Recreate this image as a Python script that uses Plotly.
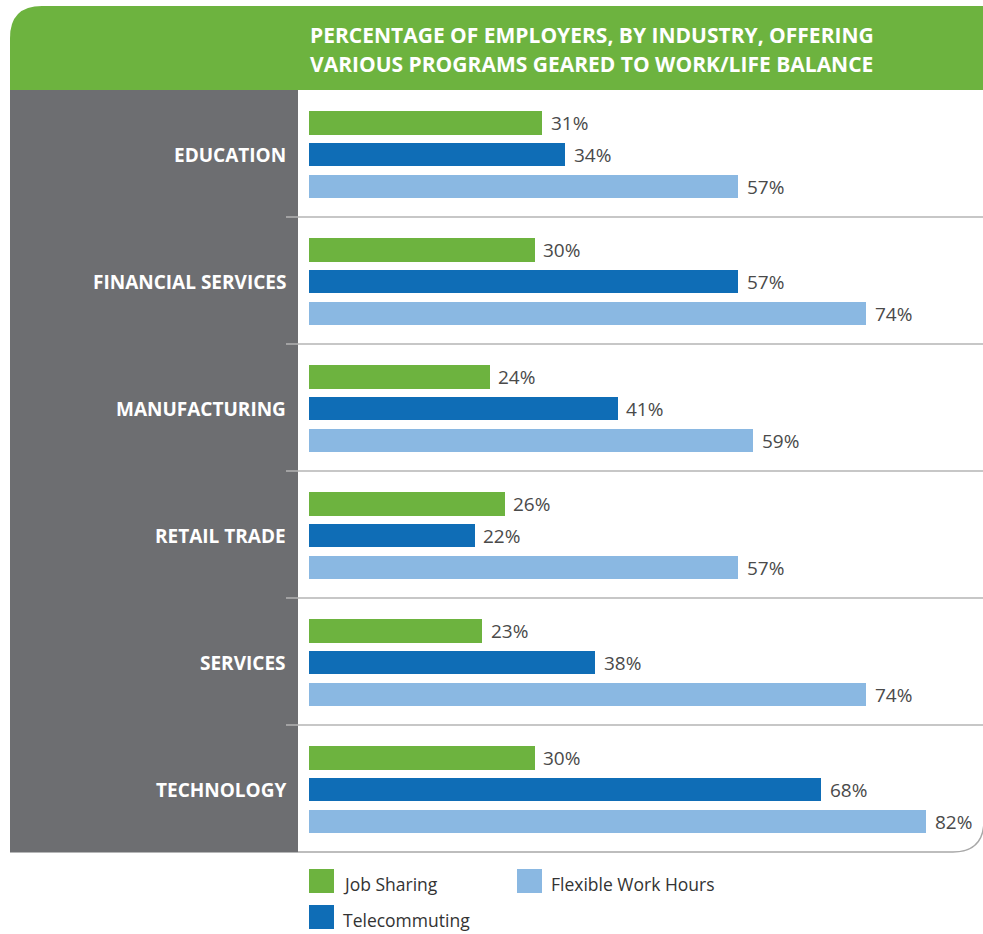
import plotly.graph_objects as go

W, H = 983, 934

industries = ["EDUCATION", "FINANCIAL SERVICES", "MANUFACTURING", "RETAIL TRADE", "SERVICES", "TECHNOLOGY"]
series_names = ["Job Sharing", "Telecommuting", "Flexible Work Hours"]
job_sharing = [31, 30, 24, 26, 23, 30]
telecommuting = [34, 57, 41, 22, 38, 68]
flexible_hours = [57, 74, 59, 57, 74, 82]
series_values = [job_sharing, telecommuting, flexible_hours]
series_colors = ["#6db33f", "#0f6db6", "#8ab8e2"]
title_lines = ["PERCENTAGE OF EMPLOYERS, BY INDUSTRY, OFFERING",
               "VARIOUS PROGRAMS GEARED TO WORK/LIFE BALANCE"]

GREEN = "#6db33f"
PANEL = "#6d6e71"
RULE = "#b5b5b5"
TEXT = "#4a4a4a"
FONT = "Open Sans"


def px(x):
    return x / W


def py(y):
    return 1 - y / H


# plot region in pixels
PLOT_TOP, PLOT_BOT = 90, 852
BAR_X0 = 308.5
PX_PER_PCT = 7.53
n = len(industries)
offsets = [-0.25, 0.0, 0.25]
center = 0.51
bar_w = 0.182

fig = go.Figure()
for k, (name, vals, col) in enumerate(zip(series_names, series_values, series_colors)):
    ys = [i + center + offsets[k] for i in range(n)]
    fig.add_trace(go.Bar(
        x=vals, y=ys, orientation="h", name=name, width=bar_w,
        marker=dict(color=col, line=dict(width=0)), showlegend=False,
        hoverinfo="x+name",
    ))

shapes = []
annotations = []

# gray category panel
shapes.append(dict(type="rect", xref="paper", yref="paper",
                   x0=px(10), x1=px(298), y0=py(852.5), y1=py(90),
                   fillcolor=PANEL, line=dict(width=0), layer="below"))

# green header with rounded top-left corner
r = 32
path = (f"M {px(10)},{py(90)} L {px(10)},{py(6 + r)} "
        f"Q {px(10)},{py(6)} {px(10 + r)},{py(6)} "
        f"L {px(983)},{py(6)} L {px(983)},{py(90)} Z")
shapes.append(dict(type="path", xref="paper", yref="paper", path=path,
                   fillcolor=GREEN, line=dict(width=0), layer="below"))

# group separators
for i in range(1, n):
    yy = PLOT_TOP + i * (PLOT_BOT - PLOT_TOP) / n
    shapes.append(dict(type="line", xref="paper", yref="paper",
                       x0=px(286), x1=px(983), y0=py(yy), y1=py(yy),
                       line=dict(color=RULE, width=1.5), layer="above"))

# bottom border with rounded corner
rb = 30
bpath = (f"M {px(298)},{py(852)} L {px(983 - rb)},{py(852)} "
         f"Q {px(983)},{py(852)} {px(984)},{py(852 - rb)}")
shapes.append(dict(type="path", xref="paper", yref="paper", path=bpath,
                   line=dict(color="#a8a8a8", width=1.5)))

# title
for j, line in enumerate(title_lines):
    annotations.append(dict(xref="paper", yref="paper", x=px(308), y=py(35 + j * 29),
                            xanchor="left", yanchor="middle", showarrow=False,
                            text=f"<b>{line}</b>",
                            font=dict(family=FONT, size=21, color="white")))

# category labels
for i, name in enumerate(industries):
    annotations.append(dict(xref="paper", yref="y", x=px(288), y=i + center,
                            xanchor="right", yanchor="middle", showarrow=False,
                            text=f"<b>{name}</b>",
                            font=dict(family=FONT, size=19, color="white")))

# value labels
for k, vals in enumerate(series_values):
    for i, v in enumerate(vals):
        annotations.append(dict(xref="x", yref="y", x=v, y=i + center + offsets[k],
                                xanchor="left", yanchor="middle", showarrow=False,
                                xshift=7, text=f"{v}%",
                                font=dict(family=FONT, size=19, color=TEXT)))

# legend
legend_pos = [(309, 869), (309, 905), (517, 869)]
for (lx, ly), name, col in zip(legend_pos, series_names, series_colors):
    shapes.append(dict(type="rect", xref="paper", yref="paper",
                       x0=px(lx), x1=px(lx + 25), y0=py(ly + 24), y1=py(ly),
                       fillcolor=col, line=dict(width=0)))
    annotations.append(dict(xref="paper", yref="paper", x=px(lx + 32), y=py(ly + 15),
                            xanchor="left", yanchor="middle", showarrow=False,
                            text=name, font=dict(family=FONT, size=17.5, color="#333333")))

fig.update_layout(
    width=W, height=H, margin=dict(l=0, r=0, t=0, b=0),
    paper_bgcolor="white", plot_bgcolor="rgba(0,0,0,0)",
    barmode="overlay", bargap=0,
    xaxis=dict(domain=[px(BAR_X0), 1], range=[0, (W - BAR_X0) / PX_PER_PCT],
               visible=False, fixedrange=True),
    yaxis=dict(domain=[py(PLOT_BOT), py(PLOT_TOP)], range=[n, 0],
               visible=False, fixedrange=True),
    shapes=shapes, annotations=annotations, showlegend=False,
)

fig.write_html("out.html", config={"displayModeBar": False})
